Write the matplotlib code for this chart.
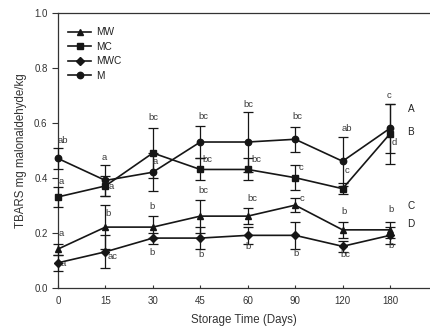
import matplotlib
matplotlib.use("Agg")
import matplotlib.pyplot as plt
from matplotlib.lines import Line2D
import numpy as np

plt.rcParams['font.family'] = ['Liberation Sans', 'DejaVu Sans']

# storage days (plotted at equal spacing)
days = ["0", "15", "30", "45", "60", "90", "120", "180"]

# TBARS means and error bars
mw = [0.14, 0.22, 0.22, 0.26, 0.26, 0.30, 0.21, 0.21]
mw_err = [0.02, 0.08, 0.04, 0.06, 0.03, 0.025, 0.03, 0.03]
mc = [0.33, 0.37, 0.49, 0.43, 0.43, 0.40, 0.36, 0.56]
mc_err = [0.035, 0.035, 0.09, 0.04, 0.04, 0.045, 0.02, 0.11]
mwc = [0.09, 0.13, 0.18, 0.18, 0.19, 0.19, 0.15, 0.19]
mwc_err = [0.03, 0.06, 0.02, 0.04, 0.03, 0.048, 0.02, 0.03]
m = [0.47, 0.39, 0.42, 0.53, 0.53, 0.54, 0.46, 0.58]
m_err = [0.04, 0.055, 0.07, 0.06, 0.11, 0.045, 0.09, 0.09]

# significance letters per point
mw_letters = ["a", "b", "b", "bc", "bc", "c", "b", "b"]
mc_letters = ["a", "a", "bc", "bc", "bc", "c", "c", "d"]
mwc_letters = ["a", "ac", "b", "b", "b", "b", "bc", "b"]
m_letters = ["ab", "a", "a", "bc", "bc", "bc", "ab", "c"]

group_letters = ["A", "B", "C", "D"]
group_y = [0.650, 0.566, 0.297, 0.231]

# label offsets in pixels (dx, dy up)
mw_off = [(3, 16), (3, 14), (-1, 21), (3, 26), (5, 18), (7, 7), (1, 18), (1, 20)]
mc_off = [(3, 15), (6, -1), (1, 35), (7, 10), (9, 10), (6, 10), (4, 18), (4, -9)]
mwc_off = [(5, -1), (7, -5), (-1, -14), (1, -16), (0, -11), (1, -18), (3, -8), (1, -10)]
m_off = [(5, 18), (-1, 23), (2, 11), (3, 26), (1, 38), (2, 23), (4, 33), (-1, 33)]

series = [
    ("MW", mw, mw_err, mw_letters, mw_off, "^"),
    ("MC", mc, mc_err, mc_letters, mc_off, "s"),
    ("MWC", mwc, mwc_err, mwc_letters, mwc_off, "D"),
    ("M", m, m_err, m_letters, m_off, "o"),
]

line_col = "#161616"
text_col = "#3a3a3a"

fig = plt.figure(figsize=(4.30, 3.31), dpi=100)
ax = fig.add_axes([58 / 430, 43.5 / 331, 1 - 58 / 430, 274.5 / 331])

x = np.arange(len(days))
handles = []
for name, vals, err, letters, offs, mk in series:
    ms = 3.8 if mk == "D" else 4.6
    ax.errorbar(x, vals, yerr=err, color=line_col, marker=mk, markersize=ms,
                linewidth=1.2, elinewidth=0.9, capsize=3.5, capthick=0.9,
                clip_on=False, zorder=3)
    handles.append(Line2D([], [], color=line_col, marker=mk, markersize=ms,
                          linewidth=1.2, label=name))
    for i, (lab, off) in enumerate(zip(letters, offs)):
        ax.annotate(lab, xy=(x[i], vals[i]), xytext=off, textcoords="offset pixels",
                    ha="center", va="center", fontsize=6.8, color=text_col)

for lab, gy in zip(group_letters, group_y):
    ax.text(7.44, gy, lab, ha="center", va="center", fontsize=7.2, color="#222222")

ax.set_xlim(0, (430 - 58) / 47.43)
ax.set_ylim(0, 1.0)
ax.set_xticks(x)
ax.set_xticklabels(days)
ax.set_yticks([0.0, 0.2, 0.4, 0.6, 0.8, 1.0])
ax.set_yticklabels(["0.0", "0.2", "0.4", "0.6", "0.8", "1.0"])
ax.tick_params(axis="y", direction="out", length=4, width=0.8, labelsize=7, colors="#333333")
ax.tick_params(axis="x", direction="in", length=2.5, width=0.8, labelsize=7, colors="#333333", pad=6)

for s in ["left", "bottom", "top"]:
    ax.spines[s].set_color("#333333")
    ax.spines[s].set_linewidth(0.9)
ax.spines["right"].set_visible(False)

ax.set_xlabel("Storage Time (Days)", fontsize=8.3, color="#333333", labelpad=6)
ax.set_ylabel("TBARS mg malonaldehyde/kg", fontsize=8.3, color="#333333", labelpad=5)

leg = ax.legend(handles=handles, loc="upper left", bbox_to_anchor=(0.0, 0.985), frameon=False,
                fontsize=7.3, handlelength=2.3, handletextpad=0.5, labelspacing=0.45,
                borderaxespad=0.6)
for t in leg.get_texts():
    t.set_color("#222222")

fig.savefig("out.png", dpi=100)
